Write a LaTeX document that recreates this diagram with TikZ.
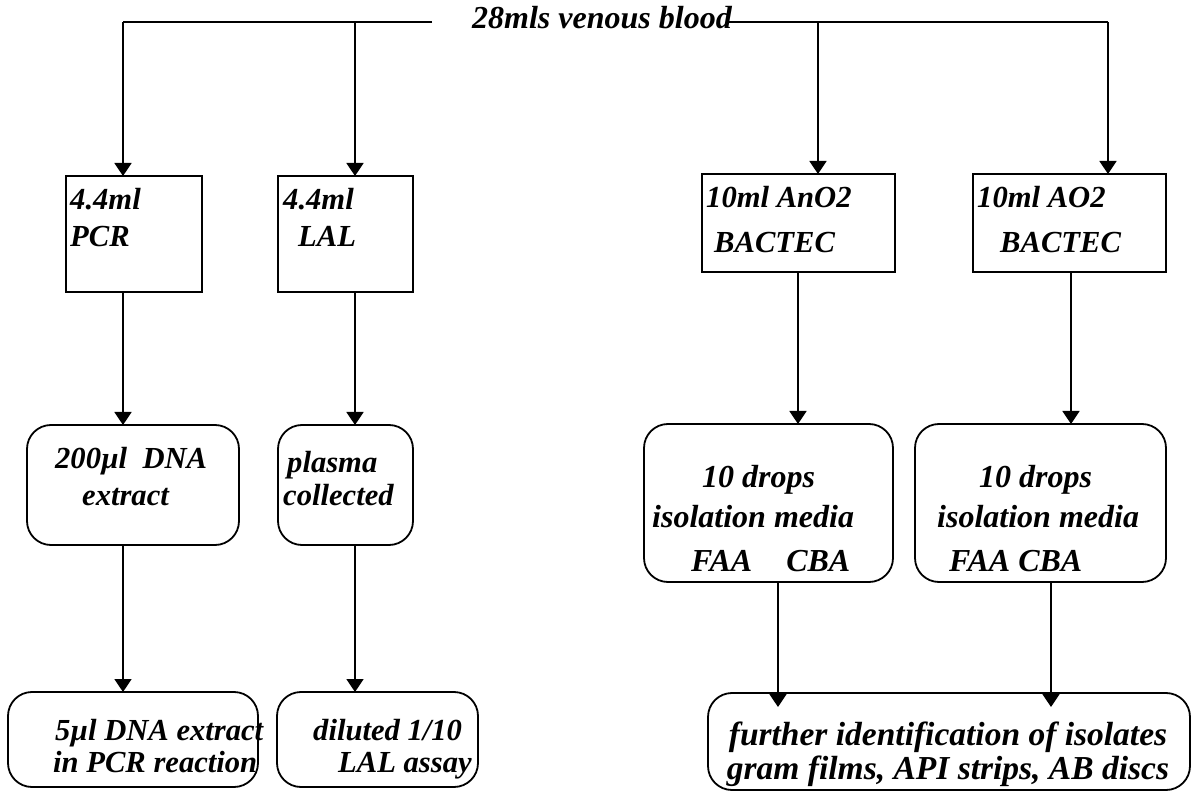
\documentclass[tikz,border=0pt]{standalone}
\usepackage{fontspec}
\setmainfont{Liberation Serif}
\usetikzlibrary{arrows.meta}
\begin{document}
\begin{tikzpicture}[x=1pt,y=-1pt,
  sq/.style={draw, line width=1.8pt, inner sep=0pt, outer sep=0pt},
  rr/.style={sq, rounded corners=24pt},
  lbl/.style={font=\bfseries\itshape\fontsize{30.6}{36}\selectfont, inner sep=0pt, anchor=base west},
  lblc/.style={lbl, anchor=base},
  big/.style={font=\bfseries\itshape\fontsize{32}{36}\selectfont},
  bigger/.style={font=\bfseries\itshape\fontsize{33.5}{36}\selectfont},
  ln/.style={line width=1.8pt},
  arr/.style={ln, -{Triangle[width=17pt,length=13pt]}}]
\useasboundingbox[fill=white] (0,0) rectangle (1195,794);

% top label and split points
\node[lbl, big] (blood) at (472,29) {28mls venous blood};
\coordinate (tL) at (432,22);
\coordinate (tA) at (123,22);
\coordinate (tB) at (355,22);
\coordinate (tR) at (726,22);
\coordinate (tC) at (818,22);
\coordinate (tD) at (1108,22);
\coordinate (bA) at (798,0);
\coordinate (bB) at (1071,0);

% boxes
\node[sq, minimum width=136pt, minimum height=116pt] (pcr) at (134,234) {};
\node[sq, minimum width=135pt, minimum height=116pt] (lal) at (345.5,234) {};
\node[sq, minimum width=193pt, minimum height=98pt] (ano) at (798.5,223) {};
\node[sq, minimum width=193pt, minimum height=98pt] (ao) at (1069.5,223) {};
\node[rr, minimum width=212pt, minimum height=120pt] (dna) at (133,485) {};
\node[rr, minimum width=135pt, minimum height=120pt] (plasma) at (345.5,485) {};
\node[rr, minimum width=249pt, minimum height=158pt] (drA) at (768.5,503) {};
\node[rr, minimum width=251pt, minimum height=158pt] (drB) at (1040.5,503) {};
\node[rr, minimum width=250pt, minimum height=95pt] (ul) at (133,739.5) {};
\node[rr, minimum width=201pt, minimum height=95pt] (dil) at (377.5,739.5) {};
\node[rr, minimum width=482pt, minimum height=97pt] (fur) at (949,741.5) {};

% texts
\node[lbl] (pcr1) at (70,210) {4.4ml};
\node[lbl] (pcr2) at (70,247) {PCR};
\node[lbl] (lal1) at (283,210) {4.4ml};
\node[lbl] (lal2) at (298,247) {LAL};
\node[lbl] (ano1) at (706,208) {10ml AnO2};
\node[lbl] (ano2) at (714,253) {BACTEC};
\node[lbl] (ao1) at (977,208) {10ml AO2};
\node[lbl] (ao2) at (1000,253) {BACTEC};
\node[lbl] (dna1) at (55,468) {200µl\ \ DNA};
\node[lbl] (dna2) at (82,505) {extract};
\node[lbl] (pl1) at (287,472) {plasma};
\node[lbl] (pl2) at (283,505) {collected};
\node[lbl, big] (drA1) at (702,487) {10 drops};
\node[lbl, big] (drA2) at (652,527) {isolation media};
\node[lbl, big] (drA3) at (691,571) {FAA\hspace{34pt}CBA};
\node[lbl, big] (drB1) at (979,487) {10 drops};
\node[lbl, big] (drB2) at (937,527) {isolation media};
\node[lbl, big] (drB3) at (949,571) {FAA\hspace{8pt}CBA};
\node[lbl] (ul1) at (55,740) {5µl DNA extract};
\node[lbl] (ul2) at (53,772) {in PCR reaction};
\node[lbl] (dil1) at (313,740) {diluted 1/10};
\node[lbl] (dil2) at (338,772) {LAL assay};
\node[lblc, bigger] (fur1) at (948,745) {further identification of isolates};
\node[lblc, bigger] (fur2) at (948,779) {gram films, API strips, AB discs};

% connectors
\draw[ln] (tL) -- (tA);
\draw[ln] (tR) -- (tD);
\draw[arr] (tA) -- (tA |- pcr.north);
\draw[arr] (tB) -- (tB |- lal.north);
\draw[arr] (tC) -- (tC |- ano.north);
\draw[arr] (tD) -- (tD |- ao.north);

\draw[arr] (pcr.south -| tA) -- (dna.north -| tA);
\draw[arr] (lal.south -| tB) -- (plasma.north -| tB);
\draw[arr] (ano.south -| bA) -- (drA.north -| bA);
\draw[arr] (ao.south -| bB) -- (drB.north -| bB);

\draw[arr] (dna.south -| tA) -- (ul.north -| tA);
\draw[arr] (plasma.south -| tB) -- (dil.north -| tB);

\coordinate (f1) at (778,707);
\coordinate (f2) at (1051,707);
\draw[arr] (drA.south -| f1) -- (f1);
\draw[arr] (drB.south -| f2) -- (f2);
\end{tikzpicture}
\end{document}
